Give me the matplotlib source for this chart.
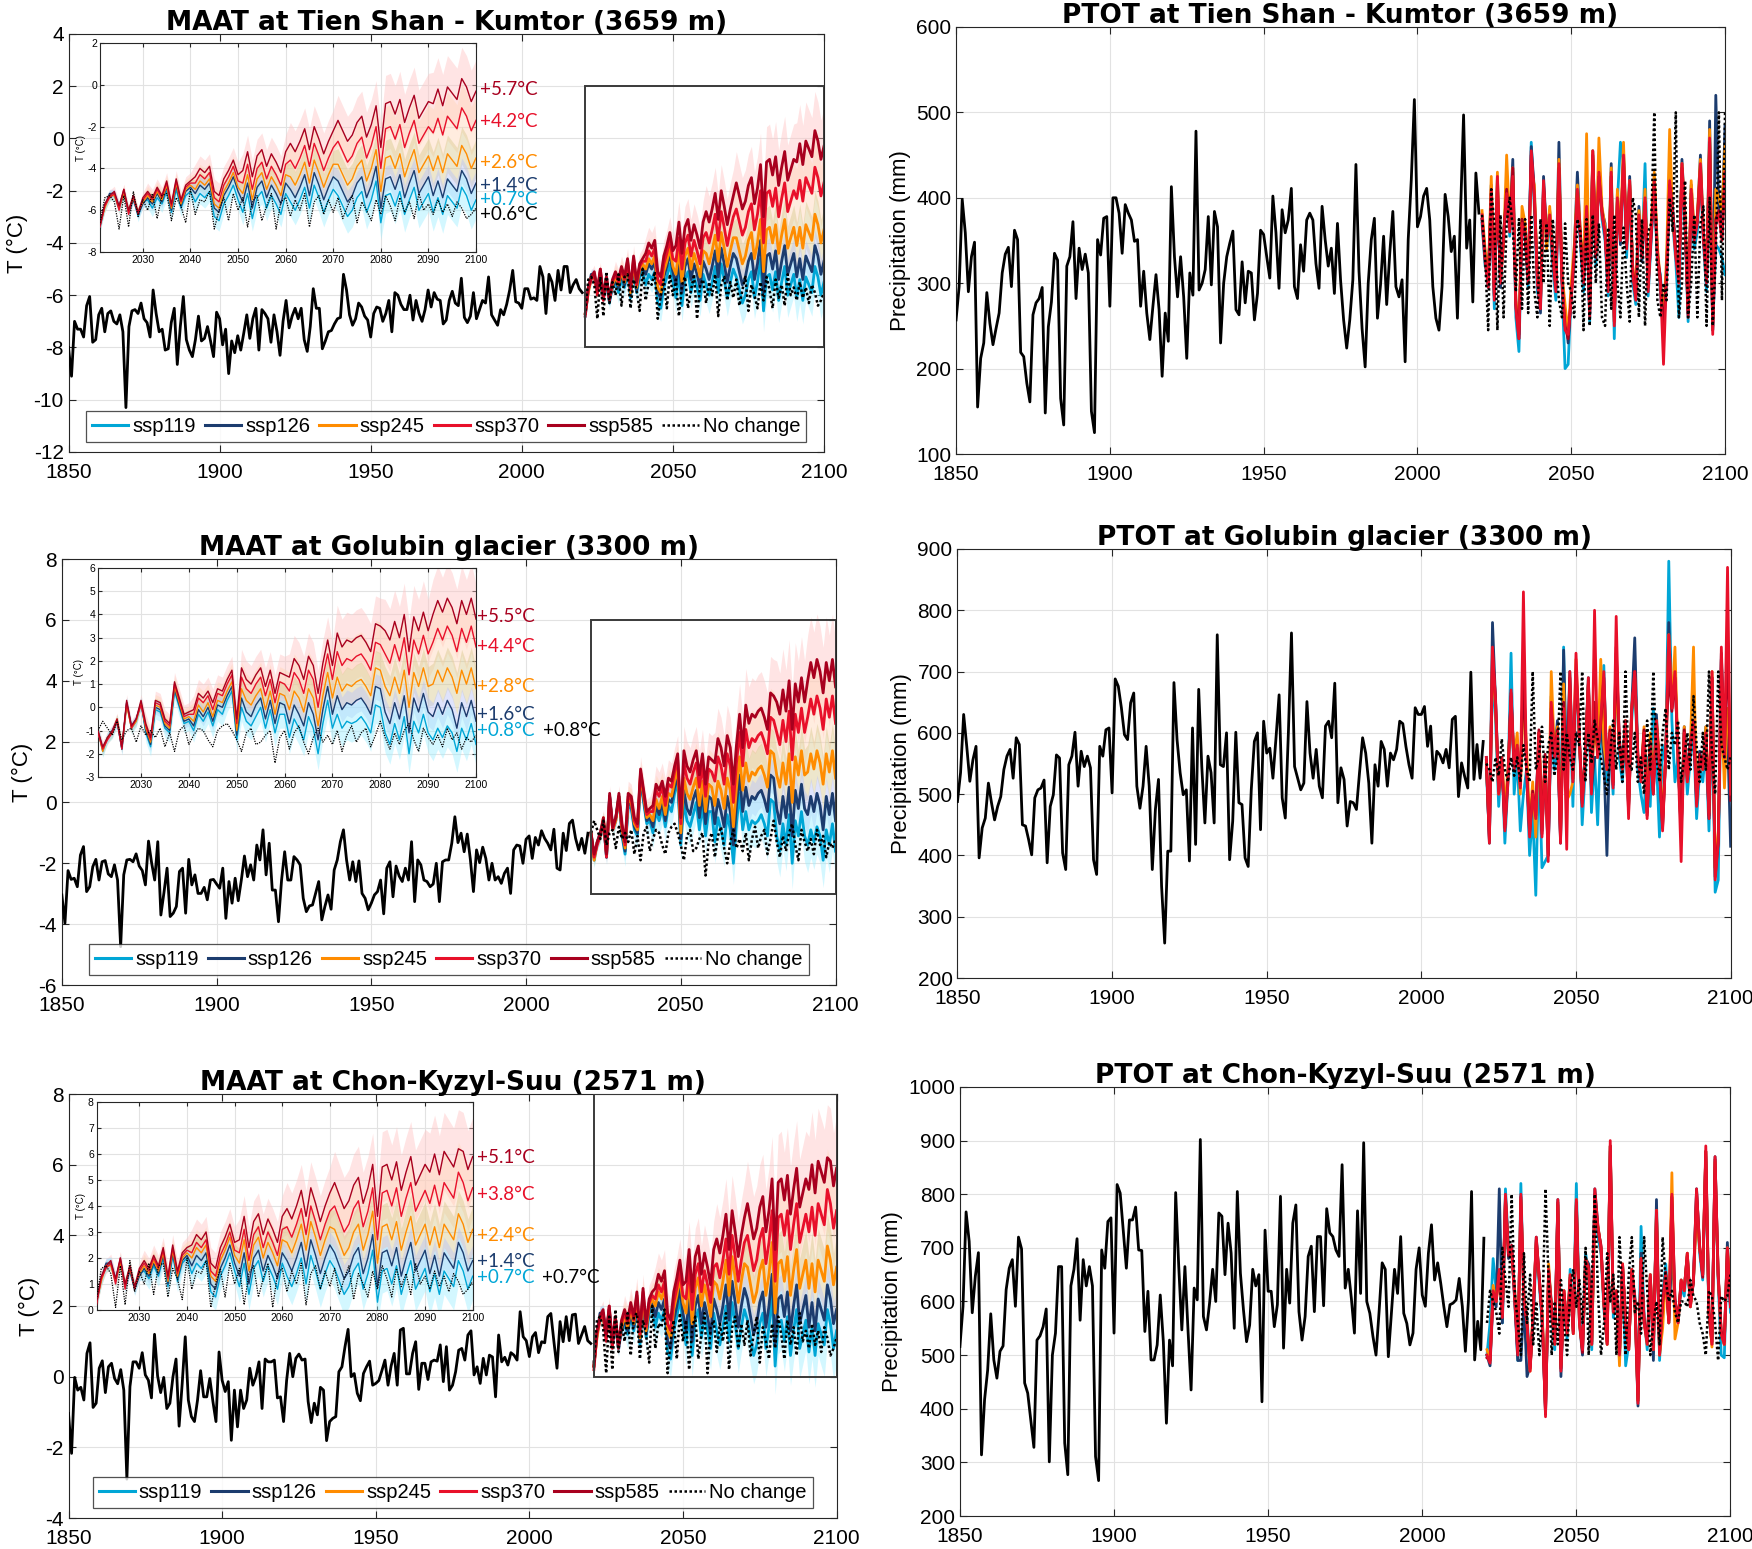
import numpy as np
import matplotlib
matplotlib.use('Agg')
import matplotlib.pyplot as plt
from matplotlib.patches import Rectangle
from matplotlib.lines import Line2D

plt.rcParams['font.family'] = ['Liberation Sans', 'DejaVu Sans']
plt.rcParams['axes.unicode_minus'] = False

# ---------------- historical series 1850-2020 ----------------
t1_hist = [-8.0, -9.1, -7.0, -7.3, -7.3, -7.6, -6.4, -6.05, -7.8, -7.7,
           -6.75, -6.5, -7.4, -6.7, -6.6, -7.0, -7.1, -6.75, -7.4, -10.3,
           -7.2, -6.6, -6.55, -6.7, -6.3, -6.9, -7.05, -7.6, -5.8, -6.7,
           -7.4, -7.3, -8.1, -8.05, -7.05, -6.5, -8.65, -7.2, -6.05, -7.7,
           -8.1, -8.35, -7.7, -6.8, -7.75, -7.65, -7.2, -7.75, -8.35, -6.65,
           -6.9, -7.9, -7.3, -9.0, -7.75, -8.2, -7.55, -8.1, -7.45, -6.75,
           -7.65, -6.9, -6.5, -8.1, -6.55, -6.7, -6.9, -7.8, -6.75, -7.4,
           -8.3, -7.0, -6.2, -7.25, -6.8, -6.5, -6.9, -6.5, -7.7, -8.15,
           -7.2, -5.75, -6.5, -6.5, -8.05, -7.75, -7.4, -7.35, -7.1, -6.9,
           -6.85, -5.2, -5.8, -6.75, -7.15, -6.9, -6.3, -6.45, -6.8, -6.95,
           -7.6, -6.7, -6.45, -6.5, -7.0, -6.7, -6.2, -7.4, -5.9, -6.0,
           -6.35, -6.55, -6.55, -6.0, -6.95, -6.2, -6.7, -7.0, -6.55, -5.8,
           -6.45, -5.9, -6.15, -6.2, -7.1, -6.95, -6.2, -5.85, -6.3, -6.4,
           -5.35, -6.85, -7.05, -6.8, -5.9, -6.9, -6.55, -6.2, -6.3, -5.3,
           -6.75, -6.95, -7.15, -6.55, -6.75, -6.35, -5.8, -5.05, -6.25, -6.3,
           -6.5, -5.75, -5.75, -6.15, -6.1, -6.2, -4.9, -5.3, -6.7, -5.2,
           -5.5, -6.2, -5.05, -5.8, -4.9, -4.9, -5.9, -5.6, -5.4, -5.75,
           -5.9]

t2_hist = [-3.04, -3.97, -2.24, -2.53, -2.49, -2.77, -1.73, -1.45, -2.93, -2.77,
           -2.11, -1.87, -2.55, -1.95, -1.91, -2.35, -2.44, -2.05, -2.55, -4.74,
           -2.38, -1.89, -1.87, -1.95, -1.69, -2.09, -2.24, -2.71, -1.27, -1.98,
           -2.55, -1.29, -3.7, -2.96, -2.16, -3.75, -3.64, -3.42, -2.27, -2.16,
           -3.64, -1.87, -2.71, -2.38, -2.99, -2.99, -2.79, -3.2, -2.55, -2.53,
           -2.68, -2.82, -2.16, -3.81, -2.6, -3.31, -2.49, -3.23, -2.55, -1.76,
           -2.44, -2.05, -2.55, -1.4, -1.89, -0.9, -2.38, -1.34, -2.88, -2.88,
           -3.92, -2.55, -1.62, -2.55, -2.55, -1.78, -1.89, -2.05, -3.15, -3.59,
           -3.4, -3.37, -2.99, -2.6, -3.86, -3.42, -3.04, -3.51, -2.22, -1.89,
           -1.29, -0.9, -1.89, -2.55, -1.95, -2.6, -1.92, -2.99, -3.15, -3.53,
           -3.31, -3.04, -2.93, -2.55, -3.66, -2.16, -1.95, -3.1, -2.09, -2.42,
           -2.6, -2.16, -2.55, -1.29, -3.26, -1.89, -2.05, -2.55, -2.6, -2.77,
           -2.68, -2.0, -3.26, -1.95, -1.89, -1.89, -1.34, -0.47, -1.32, -1.01,
           -1.62, -1.04, -1.87, -2.93, -1.56, -1.98, -1.47, -1.84, -2.55, -2.0,
           -2.55, -2.44, -2.66, -2.33, -2.16, -2.99, -1.56, -1.4, -1.43, -2.0,
           -1.21, -1.1, -1.84, -1.15, -1.4, -0.93, -1.18, -1.34, -1.56, -0.88,
           -2.16, -2.22, -1.01, -1.58, -0.69, -0.58, -1.18, -1.56, -1.18, -1.67,
           -1.01]

t3_hist = [-1.04, -2.17, -0.02, -0.38, -0.3, -0.66, 0.66, 0.96, -0.87, -0.75,
           0.24, 0.45, -0.45, 0.28, 0.38, -0.05, -0.2, 0.2, -0.38, -2.9,
           -0.28, 0.42, 0.42, 0.24, 0.68, 0.05, -0.1, -0.6, 1.2, 0.02,
           -0.45, -0.02, -0.9, -0.75, 0.0, 0.5, -1.4, -0.2, 1.13, -0.66,
           -1.13, -1.27, -0.66, 0.17, -0.57, -0.57, -0.05, -0.7, -1.27, 0.7,
           -0.1, -0.42, -0.14, -1.8, -0.38, -1.42, -0.38, -0.9, -0.66, 0.24,
           -0.24, 0.0, 0.42, -0.9, 0.5, 0.42, 0.42, 0.47, -0.6, -0.57,
           -1.27, -0.1, 0.66, 0.0, 0.52, 0.64, 0.47, 0.5, -0.7, -1.3,
           -0.75, -1.08, -0.3, -0.38, -1.81, -1.27, -1.18, -1.13, 0.14, 0.28,
           0.85, 1.34, 0.0, 0.09, -0.47, -0.68, 0.09, 0.28, 0.44, -0.24,
           -0.19, -0.11, 0.17, 0.47, -0.24, 0.3, 0.66, -0.24, 1.32, 1.37,
           0.08, 0.08, 0.66, 0.99, -0.36, 0.38, 0.38, -0.08, 0.42, 0.47,
           0.44, 0.9, -0.14, 0.85, -0.38, -0.24, 0.14, 0.75, 0.8, 0.47,
           1.18, 1.3, 0.05, 0.28, -0.19, 0.52, 0.05, 0.61, 0.56, -0.57,
           1.18, 0.42, 0.55, 0.33, 0.68, 0.61, 0.47, 1.84, 1.13, 1.02,
           0.57, 1.13, 1.25, 0.68, 0.99, 0.96, 1.7, 1.79, 0.99, 0.24,
           1.56, 0.99, 1.7, 1.02, 1.75, 1.77, 0.94, 1.18, 1.42, 1.02,
           0.94]

p1_hist = [257, 296, 398, 359, 290, 331, 348, 155, 212, 230,
           289, 253, 228, 247, 265, 312, 334, 342, 296, 362,
           351, 219, 214, 183, 161, 263, 277, 282, 295, 148,
           249, 278, 335, 327, 165, 134, 320, 331, 372, 282,
           341, 316, 334, 312, 150, 125, 351, 333, 376, 378,
           273, 400, 400, 382, 335, 392, 382, 374, 349, 351,
           273, 314, 265, 234, 273, 310, 269, 191, 265, 232,
           413, 331, 284, 331, 284, 212, 312, 286, 478, 292,
           300, 316, 378, 298, 384, 366, 230, 300, 331, 347,
           361, 269, 263, 325, 277, 314, 312, 257, 288, 362,
           357, 331, 306, 402, 359, 294, 386, 359, 374, 411,
           296, 282, 345, 314, 374, 382, 374, 323, 294, 390,
           351, 320, 341, 288, 370, 304, 257, 224, 257, 304,
           439, 314, 247, 202, 300, 351, 376, 259, 298, 355,
           275, 335, 384, 296, 284, 304, 208, 351, 421, 515,
           366, 378, 402, 411, 374, 296, 259, 245, 296, 404,
           378, 337, 355, 259, 382, 497, 341, 374, 278, 429,
           382]

p2_hist = [488, 535, 630, 578, 521, 556, 578, 396, 445, 461,
           518, 486, 458, 480, 496, 540, 562, 573, 526, 592,
           581, 450, 448, 426, 401, 494, 507, 510, 523, 388,
           480, 499, 564, 559, 404, 377, 548, 562, 601, 513,
           570, 545, 562, 543, 393, 369, 578, 562, 605, 608,
           502, 688, 676, 641, 597, 589, 649, 665, 513, 477,
           513, 578, 513, 377, 475, 524, 350, 257, 407, 407,
           682, 589, 535, 499, 507, 391, 608, 418, 671, 545,
           453, 562, 535, 453, 760, 548, 545, 600, 393, 456,
           601, 486, 483, 396, 382, 507, 586, 600, 442, 619,
           567, 575, 526, 592, 662, 494, 461, 600, 763, 545,
           526, 507, 518, 651, 567, 526, 573, 513, 494, 611,
           619, 592, 681, 486, 543, 524, 448, 488, 486, 475,
           535, 592, 567, 518, 420, 548, 513, 586, 573, 513,
           567, 556, 573, 619, 615, 578, 548, 526, 641, 630,
           630, 643, 578, 611, 524, 570, 564, 551, 573, 543,
           622, 627, 496, 551, 529, 510, 699, 524, 581, 526,
           586]

p3_hist = [516, 591, 767, 712, 579, 647, 691, 314, 417, 472,
           577, 491, 457, 507, 517, 622, 662, 678, 591, 720,
           698, 448, 429, 379, 328, 528, 536, 553, 586, 301,
           500, 541, 665, 665, 336, 277, 629, 660, 717, 565,
           678, 629, 665, 629, 311, 266, 696, 662, 749, 756,
           541, 818, 802, 731, 662, 752, 752, 776, 696, 695,
           544, 619, 491, 491, 519, 612, 525, 373, 528, 480,
           803, 665, 547, 665, 547, 435, 625, 603, 902, 572,
           547, 597, 660, 600, 765, 759, 650, 746, 690, 550,
           805, 653, 584, 525, 556, 660, 629, 650, 413, 733,
           619, 619, 553, 594, 796, 513, 660, 597, 746, 780,
           581, 528, 572, 684, 703, 581, 721, 721, 592, 773,
           728, 721, 696, 684, 855, 625, 660, 606, 541, 769,
           615, 896, 600, 578, 535, 500, 581, 672, 660, 497,
           578, 660, 615, 721, 578, 559, 519, 541, 660, 700,
           612, 591, 690, 743, 640, 672, 634, 591, 553, 594,
           597, 603, 643, 591, 507, 603, 805, 491, 563, 510,
           718]

# ---------------- projections 2021-2100 ----------------
t1_proj = {
    'ssp119': [-6.8, -5.8, -5.3, -5.3, -5.9, -5.2, -6.1, -5.4, -6.3, -5.6,
               -5.5, -5.9, -5.4, -5.7, -5.1, -6.1, -5.0, -5.9, -5.3, -5.1,
               -5.6, -5.2, -5.4, -5.1, -6.3, -6.5, -5.7, -5.3, -4.8, -5.5,
               -6.1, -5.2, -6.4, -5.4, -5.1, -5.9, -5.3, -5.7, -6.2, -5.2,
               -5.6, -6.0, -5.5, -4.9, -5.9, -4.8, -5.4, -6.1, -5.5, -5.0,
               -5.3, -5.8, -6.3, -6.0, -5.4, -5.1, -6.1, -5.5, -4.6, -6.6,
               -5.3, -5.2, -5.8, -5.1, -6.2, -5.5, -4.9, -6.0, -5.6, -5.2,
               -6.1, -5.4, -6.2, -5.3, -5.6, -5.9, -4.9, -5.3, -6.0, -5.5],
    'ssp126': [-6.7, -5.8, -5.2, -5.2, -5.8, -5.1, -6.1, -5.5, -6.2, -5.7,
               -5.4, -5.7, -5.2, -5.6, -4.9, -6.0, -4.8, -5.8, -5.1, -4.9,
               -5.2, -4.8, -5.0, -4.7, -5.9, -6.1, -5.3, -4.9, -4.4, -5.1,
               -5.6, -4.7, -5.9, -4.9, -4.6, -5.4, -4.8, -5.2, -5.7, -4.7,
               -5.0, -5.4, -4.9, -4.3, -5.3, -4.2, -4.8, -5.5, -4.9, -4.4,
               -4.6, -5.1, -5.6, -5.3, -4.7, -4.4, -5.4, -4.8, -3.9, -5.9,
               -4.5, -4.4, -5.0, -4.3, -5.4, -4.7, -4.1, -5.2, -4.8, -4.4,
               -5.3, -4.6, -5.4, -4.5, -4.8, -5.1, -4.1, -4.5, -5.2, -4.7],
    'ssp245': [-6.7, -5.9, -5.3, -5.3, -5.9, -5.2, -6.0, -5.4, -6.1, -5.6,
               -5.3, -5.6, -5.1, -5.5, -4.8, -5.9, -4.7, -5.7, -5.0, -4.8,
               -5.0, -4.6, -4.8, -4.5, -5.7, -5.9, -5.1, -4.7, -4.2, -4.9,
               -5.2, -4.3, -5.5, -4.5, -4.2, -5.0, -4.4, -4.8, -5.3, -4.3,
               -4.4, -4.8, -4.3, -3.7, -4.7, -3.6, -4.2, -4.9, -4.3, -3.8,
               -3.8, -4.3, -4.8, -4.5, -3.9, -3.6, -4.6, -4.0, -3.1, -5.1,
               -3.5, -3.4, -4.0, -3.3, -4.4, -3.7, -3.1, -4.2, -3.8, -3.4,
               -4.1, -3.4, -4.2, -3.3, -3.6, -3.9, -2.9, -3.3, -4.0, -3.5],
    'ssp370': [-6.8, -5.8, -5.4, -5.2, -6.0, -5.0, -6.2, -5.3, -6.2, -5.5,
               -5.2, -5.5, -5.0, -5.4, -4.7, -5.8, -4.6, -5.6, -4.9, -4.7,
               -4.7, -4.3, -4.5, -4.2, -5.4, -5.6, -4.8, -4.4, -3.9, -4.6,
               -4.7, -3.8, -5.0, -4.0, -3.7, -4.5, -3.9, -4.3, -4.8, -3.8,
               -3.6, -4.0, -3.5, -2.9, -3.9, -2.8, -3.4, -4.1, -3.5, -3.0,
               -2.7, -3.2, -3.7, -3.4, -2.8, -2.5, -3.5, -2.9, -2.0, -4.0,
               -2.1, -2.0, -2.6, -1.9, -3.0, -2.3, -1.7, -2.8, -2.4, -2.0,
               -2.3, -1.6, -2.4, -1.5, -1.8, -2.1, -1.1, -1.5, -2.2, -1.7],
    'ssp585': [-6.7, -5.7, -5.3, -5.1, -5.8, -5.0, -6.0, -5.3, -6.1, -5.4,
               -5.1, -5.4, -4.9, -5.3, -4.6, -5.7, -4.5, -5.5, -4.8, -4.6,
               -4.4, -4.0, -4.2, -3.9, -5.1, -5.3, -4.5, -4.1, -3.6, -4.3,
               -4.1, -3.2, -4.4, -3.4, -3.1, -3.9, -3.3, -3.7, -4.2, -3.2,
               -2.8, -3.2, -2.7, -2.1, -3.1, -2.0, -2.6, -3.3, -2.7, -2.2,
               -1.7, -2.2, -2.7, -2.4, -1.8, -1.5, -2.5, -1.9, -1.0, -3.0,
               -0.9, -0.8, -1.4, -0.7, -1.8, -1.1, -0.5, -1.6, -1.2, -0.8,
               -0.9, -0.2, -1.0, -0.1, -0.4, -0.7, 0.3, -0.1, -0.8, -0.3],
}
t1_nochange = [-6.6, -5.4, -5.3, -5.6, -6.9, -5.3, -6.8, -5.1, -6.3, -5.5,
               -6.0, -5.2, -6.4, -5.3, -5.2, -6.5, -5.4, -5.8, -6.6, -5.0,
               -6.2, -5.5, -5.6, -5.1, -6.9, -6.0, -5.4, -6.5, -5.2, -6.0,
               -5.4, -6.8, -5.6, -5.3, -6.5, -5.8, -5.2, -6.9, -5.6, -5.4,
               -6.3, -5.5, -6.0, -5.2, -6.8, -5.6, -5.3, -6.2, -5.5, -6.1,
               -5.4, -6.4, -5.8, -5.3, -6.6, -5.6, -6.0, -6.5, -5.5, -6.2,
               -5.3, -5.8, -6.5, -5.4, -6.1, -5.6, -6.4, -5.2, -6.0, -5.7,
               -6.2, -5.5, -6.1, -5.7, -6.3, -5.6, -5.9, -6.4, -6.2, -5.9]

t2_proj = {
    'ssp119': [-1.0, -1.9, -1.3, -1.1, -0.6, -1.8, 0.2, -0.9, -0.6, 0.2,
               -1.1, -1.7, -0.1, -0.2, -0.9, -1.1, 0.7, 0.0, -0.7, -0.6,
               -1.0, -0.3, -0.6, -0.2, -0.8, -0.1, -0.3, 0.3, 0.7, -1.4,
               0.0, -0.6, -0.8, -0.4, 0.0, -0.9, -0.1, -1.1, -0.3, -0.3,
               -1.3, -0.5, -0.9, -1.4, -0.4, -0.9, -2.0, -0.7, 0.3, -0.9,
               -0.3, -0.9, -0.6, -0.7, -0.6, -0.4, -0.7, -1.1, 0.1, 0.0,
               -1.1, -1.6, -0.7, -1.4, -0.4, -2.0, -0.6, -1.1, -0.3, -1.1,
               -1.4, -0.9, -1.3, -0.8, -1.1, -1.9, -0.9, -1.4, -0.7, -1.6],
    'ssp126': [-1.0, -1.8, -1.3, -1.0, -0.6, -1.8, 0.2, -0.8, -0.5, 0.2,
               -1.0, -1.6, 0.0, -0.1, -0.8, -1.0, 0.8, 0.1, -0.6, -0.5,
               -0.8, -0.1, -0.4, 0.0, -0.6, 0.1, 0.0, 0.5, 0.9, -1.2,
               0.4, -0.2, -0.4, 0.1, 0.4, -0.5, 0.3, -0.7, 0.2, 0.1,
               -0.7, 0.1, -0.3, -0.8, 0.2, -0.3, -1.4, -0.1, 0.9, -0.3,
               0.5, -0.1, 0.2, 0.1, 0.3, 0.4, 0.1, -0.3, 0.9, 0.8,
               -0.2, -0.7, 0.2, -0.5, 0.5, -1.1, 0.4, -0.2, 0.6, -0.2,
               -0.4, 0.2, -0.3, 0.3, -0.1, -0.9, 0.2, -0.4, 0.3, -0.6],
    'ssp245': [-1.0, -1.9, -1.3, -1.1, -0.5, -1.7, 0.1, -0.9, -0.6, 0.2,
               -0.9, -1.5, 0.1, 0.0, -0.7, -0.9, 0.9, 0.2, -0.5, -0.4,
               -0.6, 0.1, -0.2, 0.2, -0.4, 0.3, 0.2, 0.7, 1.1, -1.0,
               0.8, 0.3, 0.1, 0.5, 0.8, -0.1, 0.7, -0.3, 0.6, 0.5,
               -0.1, 0.7, 0.4, -0.2, 0.8, 0.4, -0.8, 0.5, 1.5, 0.4,
               1.3, 0.7, 1.0, 0.9, 1.1, 1.2, 0.9, 0.5, 1.7, 1.6,
               0.9, 0.5, 1.3, 0.6, 1.6, 0.0, 1.5, 0.9, 1.7, 0.9,
               1.0, 1.6, 1.1, 1.7, 1.3, 0.6, 1.6, 1.0, 1.7, 0.8],
    'ssp370': [-1.1, -1.8, -1.4, -1.1, -0.6, -1.8, 0.2, -0.9, -0.5, 0.1,
               -0.8, -1.4, 0.2, 0.1, -0.6, -0.8, 1.0, 0.3, -0.4, -0.3,
               -0.3, 0.4, 0.2, 0.5, -0.1, 0.6, 0.5, 1.0, 1.4, -0.7,
               1.3, 0.8, 0.6, 1.0, 1.3, 0.5, 1.2, 0.2, 1.1, 1.0,
               0.7, 1.5, 1.2, 0.6, 1.6, 1.2, 0.0, 1.3, 2.3, 1.2,
               2.4, 1.8, 2.1, 2.0, 2.2, 2.3, 2.0, 1.6, 2.8, 2.7,
               2.3, 1.9, 2.7, 2.0, 3.0, 1.4, 2.9, 2.3, 3.1, 2.3,
               2.8, 3.4, 2.9, 3.5, 3.1, 2.4, 3.4, 2.8, 3.5, 2.6],
    'ssp585': [-1.0, -1.7, -1.3, -1.0, -0.5, -1.7, 0.3, -0.8, -0.5, 0.3,
               -0.7, -1.3, 0.3, 0.2, -0.5, -0.7, 1.1, 0.4, -0.3, -0.2,
               -0.1, 0.6, 0.4, 0.7, 0.2, 0.8, 0.7, 1.2, 1.6, -0.5,
               1.7, 1.2, 1.0, 1.4, 1.7, 0.9, 1.6, 0.6, 1.5, 1.4,
               1.3, 2.1, 1.8, 1.2, 2.2, 1.8, 0.6, 1.9, 2.9, 1.8,
               3.2, 2.6, 2.9, 2.8, 3.0, 3.1, 2.8, 2.4, 3.6, 3.5,
               3.3, 2.9, 3.7, 3.0, 4.0, 2.4, 3.9, 3.3, 4.1, 3.3,
               4.0, 4.6, 4.1, 4.7, 4.3, 3.6, 4.6, 4.0, 4.7, 3.8],
}
t2_nochange = [-1.0, -0.6, -0.9, -1.2, -0.6, -1.4, -1.0, -0.9, -1.5, -0.8,
               -1.2, -1.0, -1.3, -0.9, -1.7, -1.1, -1.9, -1.0, -0.8, -1.6,
               -1.2, -0.9, -1.0, -1.4, -1.7, -1.0, -0.8, -0.7, -1.0, -1.4,
               -1.9, -1.1, -0.9, -1.6, -1.5, -1.2, -1.0, -2.4, -1.3, -1.0,
               -1.8, -1.1, -0.8, -1.5, -2.0, -1.3, -0.9, -1.5, -1.2, -1.6,
               -1.0, -1.9, -1.2, -0.8, -1.5, -1.1, -0.9, -1.7, -1.2, -0.6,
               -1.3, -1.8, -1.1, -1.6, -1.0, -0.7, -1.4, -1.9, -0.9, -1.3,
               -1.6, -1.2, -1.7, -0.9, -1.4, -1.1, -1.8, -1.3, -1.5, -1.2]

t3_proj = {
    'ssp119': [0.3, 1.2, 1.7, 1.8, 1.1, 1.9, 0.9, 1.6, 0.8, 1.4,
               1.5, 1.2, 1.7, 1.3, 2.0, 0.9, 2.1, 1.1, 1.8, 2.0,
               1.4, 1.8, 1.6, 1.9, 0.7, 0.5, 1.3, 1.7, 2.2, 1.5,
               0.9, 1.8, 0.6, 1.6, 1.9, 1.1, 1.7, 1.3, 0.8, 1.8,
               1.3, 0.9, 1.4, 2.0, 1.0, 2.1, 1.5, 0.8, 1.4, 1.9,
               1.6, 1.1, 0.6, 0.9, 1.5, 1.8, 0.8, 1.4, 2.3, 0.3,
               1.5, 1.6, 1.0, 1.7, 0.6, 1.3, 1.9, 0.8, 1.2, 1.6,
               0.7, 1.4, 0.6, 1.5, 1.2, 0.9, 1.9, 1.5, 0.8, 1.3],
    'ssp126': [0.3, 1.2, 1.8, 1.8, 1.2, 1.9, 0.9, 1.5, 0.8, 1.3,
               1.6, 1.3, 1.8, 1.4, 2.1, 1.0, 2.2, 1.2, 1.9, 2.1,
               1.7, 2.1, 1.9, 2.2, 1.0, 0.8, 1.6, 2.0, 2.5, 1.8,
               1.3, 2.2, 1.0, 2.0, 2.3, 1.5, 2.1, 1.7, 1.2, 2.2,
               1.9, 1.5, 2.0, 2.6, 1.6, 2.7, 2.1, 1.4, 2.0, 2.5,
               2.2, 1.7, 1.2, 1.5, 2.1, 2.4, 1.4, 2.0, 2.9, 0.9,
               2.2, 2.3, 1.7, 2.4, 1.3, 2.0, 2.6, 1.5, 1.9, 2.3,
               1.4, 2.1, 1.3, 2.2, 1.9, 1.6, 2.6, 2.2, 1.5, 1.9],
    'ssp245': [0.3, 1.1, 1.7, 1.7, 1.1, 1.8, 1.0, 1.6, 0.9, 1.4,
               1.7, 1.4, 1.9, 1.5, 2.2, 1.1, 2.3, 1.3, 2.0, 2.2,
               2.0, 2.4, 2.2, 2.5, 1.3, 1.1, 1.9, 2.3, 2.8, 2.1,
               1.8, 2.7, 1.5, 2.5, 2.8, 2.0, 2.6, 2.2, 1.7, 2.7,
               2.6, 2.2, 2.7, 3.3, 2.3, 3.4, 2.8, 2.1, 2.7, 3.2,
               3.1, 2.6, 2.1, 2.4, 3.0, 3.3, 2.3, 2.9, 3.8, 1.8,
               3.2, 3.3, 2.7, 3.4, 2.3, 3.0, 3.6, 2.5, 2.9, 3.3,
               2.5, 3.2, 2.4, 3.3, 3.0, 2.7, 3.7, 3.3, 2.6, 3.1],
    'ssp370': [0.2, 1.2, 1.6, 1.8, 1.0, 2.0, 0.8, 1.7, 0.8, 1.5,
               1.8, 1.5, 2.0, 1.6, 2.3, 1.2, 2.4, 1.4, 2.1, 2.3,
               2.2, 2.6, 2.4, 2.7, 1.5, 1.3, 2.1, 2.5, 3.0, 2.3,
               2.2, 3.1, 1.9, 2.9, 3.2, 2.4, 3.0, 2.6, 2.1, 3.1,
               3.2, 2.8, 3.3, 3.9, 2.9, 4.0, 3.4, 2.7, 3.3, 3.8,
               4.0, 3.5, 3.0, 3.3, 3.9, 4.2, 3.2, 3.8, 4.7, 2.7,
               4.5, 4.6, 4.0, 4.7, 3.6, 4.3, 4.9, 3.8, 4.2, 4.6,
               4.1, 4.8, 4.0, 4.9, 4.6, 4.3, 5.3, 4.9, 4.2, 4.7],
    'ssp585': [0.3, 1.3, 1.7, 1.9, 1.2, 2.0, 1.0, 1.7, 0.9, 1.6,
               1.9, 1.6, 2.1, 1.7, 2.4, 1.3, 2.5, 1.5, 2.2, 2.4,
               2.5, 2.9, 2.7, 3.0, 1.8, 1.6, 2.4, 2.8, 3.3, 2.6,
               2.7, 3.6, 2.4, 3.4, 3.7, 2.9, 3.5, 3.1, 2.6, 3.6,
               3.9, 3.5, 4.0, 4.6, 3.6, 4.7, 4.1, 3.4, 4.0, 4.5,
               4.9, 4.4, 3.9, 4.2, 4.8, 5.1, 4.1, 4.7, 5.6, 3.6,
               5.5, 5.6, 5.0, 5.7, 4.6, 5.3, 5.9, 4.8, 5.2, 5.6,
               5.3, 6.0, 5.2, 6.1, 5.8, 5.5, 6.2, 6.1, 5.4, 5.9],
}
t3_nochange = [0.4, 1.6, 1.7, 1.4, 0.1, 1.7, 0.2, 1.9, 0.7, 1.5,
               1.0, 1.8, 0.6, 1.7, 1.8, 0.5, 1.6, 1.2, 0.4, 2.0,
               0.8, 1.5, 1.4, 1.9, 0.1, 1.0, 1.6, 0.5, 1.8, 1.0,
               1.6, 0.2, 1.4, 1.7, 0.5, 1.2, 1.8, 0.1, 1.4, 1.6,
               0.7, 1.5, 1.0, 1.8, 0.2, 1.4, 1.7, 0.8, 1.5, 0.9,
               1.6, 0.6, 1.2, 1.7, 0.4, 1.4, 1.0, 0.5, 1.5, 0.8,
               1.7, 1.2, 0.5, 1.6, 0.9, 1.4, 0.6, 1.8, 1.0, 1.3,
               0.8, 1.5, 0.9, 1.3, 0.7, 1.4, 1.1, 0.6, 0.8, 1.1]

p1_proj = {
    'ssp119': [370, 320, 310, 400, 270, 425, 310, 345, 420, 355,
               430, 260, 220, 365, 355, 295, 465, 390, 290, 275,
               410, 345, 370, 320, 280, 430, 295, 200, 205, 290,
               320, 400, 345, 290, 385, 255, 445, 320, 440, 375,
               350, 285, 425, 235, 395, 465, 440, 330, 410, 300,
               275, 370, 335, 440, 285, 350, 410, 325, 310, 250,
               300, 410, 370, 325, 260, 430, 365, 255, 400, 340,
               360, 430, 345, 290, 470, 245, 345, 340, 330, 310],
    'ssp126': [375, 335, 295, 415, 285, 410, 295, 360, 400, 365,
               445, 275, 240, 375, 365, 305, 460, 410, 305, 265,
               425, 355, 385, 340, 295, 465, 305, 265, 230, 285,
               340, 430, 355, 305, 395, 265, 455, 340, 425, 385,
               370, 295, 440, 260, 405, 345, 455, 350, 425, 315,
               285, 390, 325, 395, 300, 365, 415, 340, 290, 240,
               320, 425, 385, 340, 305, 445, 375, 265, 415, 355,
               375, 450, 355, 305, 490, 250, 520, 385, 360, 485],
    'ssp245': [385, 340, 305, 425, 290, 430, 305, 345, 450, 370,
               435, 280, 250, 390, 370, 310, 430, 415, 310, 280,
               410, 340, 390, 335, 300, 445, 310, 275, 240, 300,
               345, 415, 360, 310, 475, 270, 455, 335, 470, 390,
               365, 300, 435, 255, 410, 360, 465, 345, 420, 320,
               290, 385, 340, 410, 295, 370, 430, 345, 300, 260,
               330, 480, 375, 335, 305, 440, 380, 270, 420, 360,
               380, 445, 360, 310, 480, 255, 410, 400, 385, 460],
    'ssp370': [380, 330, 295, 410, 280, 425, 300, 350, 405, 360,
               425, 270, 235, 370, 360, 300, 455, 405, 300, 270,
               420, 350, 380, 330, 290, 440, 300, 245, 240, 280,
               330, 410, 350, 300, 390, 260, 455, 335, 430, 380,
               360, 290, 430, 250, 400, 350, 450, 340, 420, 310,
               280, 380, 330, 400, 290, 360, 420, 330, 300, 205,
               310, 420, 380, 330, 300, 440, 370, 260, 410, 350,
               370, 440, 350, 300, 470, 240, 370, 380, 350, 430],
    'ssp585': [375, 325, 300, 405, 285, 415, 305, 355, 410, 365,
               435, 275, 235, 375, 355, 305, 450, 400, 305, 275,
               415, 355, 375, 335, 295, 435, 305, 250, 235, 285,
               335, 405, 355, 305, 385, 265, 450, 330, 425, 385,
               355, 295, 425, 255, 395, 355, 445, 345, 415, 315,
               285, 375, 335, 395, 295, 355, 415, 335, 305, 240,
               315, 415, 385, 335, 305, 435, 375, 265, 405, 355,
               375, 435, 355, 305, 465, 245, 375, 385, 355, 425],
}
p1_nochange = [380, 330, 245, 410, 370, 245, 380, 260, 370, 400,
               365, 290, 375, 270, 375, 265, 380, 290, 260, 375,
               300, 370, 250, 375, 330, 280, 260, 370, 300, 290,
               260, 375, 360, 245, 375, 250, 380, 300, 370, 260,
               250, 365, 270, 380, 300, 260, 365, 300, 255, 400,
               380, 260, 375, 250, 360, 370, 500, 280, 260, 300,
               280, 400, 360, 500, 260, 300, 420, 260, 300, 380,
               260, 370, 390, 250, 400, 250, 330, 500, 280, 500]

p2_proj = {
    'ssp119': [540, 430, 700, 620, 480, 560, 420, 520, 730, 500,
               560, 440, 500, 540, 400, 470, 335, 560, 380, 390,
               400, 620, 540, 580, 430, 740, 500, 660, 480, 700,
               610, 450, 540, 680, 470, 560, 450, 600, 710, 520,
               590, 500, 720, 560, 520, 600, 480, 620, 690, 540,
               500, 470, 560, 480, 640, 560, 430, 580, 550, 880,
               620, 520, 560, 430, 600, 500, 560, 600, 460, 540,
               520, 580, 440, 640, 340, 360, 720, 540, 600, 490],
    'ssp126': [560, 420, 780, 650, 510, 560, 450, 530, 660, 540,
               580, 520, 700, 550, 440, 500, 470, 600, 440, 560,
               400, 660, 560, 620, 420, 735, 520, 700, 530, 600,
               600, 490, 570, 690, 510, 560, 560, 620, 560, 400,
               600, 520, 730, 590, 540, 620, 480, 640, 755, 560,
               520, 600, 470, 590, 500, 630, 540, 450, 560, 780,
               640, 700, 560, 440, 610, 530, 590, 620, 490, 570,
               540, 610, 460, 690, 380, 420, 730, 560, 600, 415],
    'ssp245': [550, 440, 720, 640, 500, 560, 480, 540, 650, 560,
               600, 500, 660, 580, 450, 520, 430, 600, 480, 540,
               420, 700, 570, 610, 440, 680, 490, 500, 520, 720,
               600, 490, 560, 680, 520, 620, 560, 720, 580, 540,
               610, 520, 700, 580, 540, 620, 480, 640, 690, 560,
               530, 610, 480, 600, 520, 620, 560, 460, 560, 760,
               640, 740, 560, 440, 610, 520, 580, 740, 490, 560,
               540, 610, 470, 700, 380, 440, 650, 510, 640, 600],
    'ssp370': [560, 420, 740, 650, 500, 560, 440, 520, 670, 540,
               580, 510, 830, 540, 430, 500, 460, 600, 430, 560,
               390, 650, 560, 600, 420, 640, 410, 700, 520, 730,
               600, 480, 560, 690, 500, 800, 560, 620, 700, 540,
               600, 510, 790, 580, 540, 620, 460, 640, 700, 560,
               520, 600, 460, 580, 500, 620, 540, 440, 560, 760,
               640, 700, 560, 390, 600, 520, 580, 620, 480, 560,
               540, 600, 460, 700, 360, 420, 740, 560, 870, 500],
    'ssp585': [555, 425, 730, 655, 505, 555, 445, 525, 665, 545,
               575, 515, 700, 545, 435, 505, 465, 605, 435, 565,
               400, 640, 565, 605, 425, 650, 520, 690, 525, 700,
               605, 485, 565, 680, 505, 650, 565, 615, 690, 545,
               605, 515, 740, 585, 545, 615, 470, 635, 700, 565,
               525, 605, 465, 585, 505, 615, 545, 445, 565, 700,
               635, 690, 565, 435, 605, 525, 585, 615, 485, 565,
               545, 595, 465, 690, 365, 425, 720, 560, 760, 490],
}
p2_nochange = [550, 540, 520, 560, 530, 590, 540, 520, 560, 530,
               560, 520, 580, 540, 520, 700, 540, 560, 610, 520,
               580, 600, 530, 560, 700, 540, 600, 560, 540, 600,
               580, 700, 520, 600, 550, 620, 590, 560, 530, 500,
               560, 620, 540, 600, 520, 700, 550, 540, 600, 520,
               560, 500, 620, 540, 700, 560, 520, 600, 640, 540,
               600, 580, 620, 520, 560, 600, 540, 660, 580, 520,
               600, 540, 700, 560, 500, 700, 580, 560, 540, 560]

p3_proj = {
    'ssp119': [500, 560, 680, 620, 650, 560, 810, 700, 690, 620,
               490, 820, 590, 570, 480, 560, 700, 630, 550, 400,
               650, 570, 510, 780, 480, 610, 530, 660, 550, 820,
               570, 520, 690, 650, 510, 800, 720, 690, 580, 530,
               880, 570, 610, 490, 660, 480, 520, 650, 610, 420,
               740, 570, 510, 640, 520, 760, 490, 610, 670, 560,
               780, 590, 570, 630, 610, 680, 600, 640, 790, 690,
               640, 870, 570, 530, 850, 640, 500, 495, 690, 580],
    'ssp126': [500, 480, 610, 590, 810, 560, 790, 680, 700, 600,
               490, 490, 600, 460, 480, 570, 720, 640, 560, 390,
               660, 590, 530, 790, 460, 620, 540, 640, 540, 780,
               560, 500, 680, 670, 520, 810, 740, 700, 590, 520,
               890, 580, 620, 500, 670, 560, 510, 660, 600, 405,
               690, 560, 530, 650, 490, 790, 500, 600, 650, 560,
               690, 600, 560, 640, 620, 690, 590, 640, 810, 700,
               650, 880, 580, 520, 870, 650, 540, 520, 710, 590],
    'ssp245': [510, 490, 630, 600, 650, 580, 790, 690, 690, 620,
               510, 790, 610, 560, 470, 590, 710, 640, 570, 400,
               670, 580, 520, 780, 480, 620, 540, 650, 540, 790,
               560, 510, 680, 660, 520, 760, 740, 700, 590, 520,
               890, 580, 620, 480, 670, 560, 510, 660, 600, 415,
               680, 560, 520, 650, 510, 770, 500, 550, 650, 560,
               840, 530, 560, 640, 620, 690, 590, 640, 760, 700,
               650, 880, 580, 515, 860, 650, 540, 520, 700, 620],
    'ssp370': [500, 485, 620, 600, 660, 570, 800, 690, 700, 610,
               500, 800, 600, 560, 470, 580, 720, 640, 560, 385,
               660, 580, 520, 790, 470, 620, 540, 650, 540, 790,
               560, 510, 680, 660, 520, 810, 740, 700, 590, 520,
               900, 580, 620, 500, 670, 560, 510, 660, 600, 410,
               680, 560, 520, 650, 510, 770, 500, 600, 650, 560,
               800, 600, 560, 640, 620, 690, 590, 640, 810, 700,
               650, 890, 580, 520, 870, 650, 540, 520, 700, 590],
    'ssp585': [495, 490, 615, 605, 655, 575, 795, 685, 705, 605,
               505, 795, 605, 555, 475, 575, 715, 645, 555, 390,
               655, 585, 525, 785, 475, 615, 545, 645, 545, 785,
               565, 505, 675, 665, 525, 800, 735, 705, 595, 525,
               890, 585, 615, 505, 665, 565, 515, 655, 605, 415,
               675, 565, 525, 645, 515, 765, 505, 595, 655, 565,
               795, 605, 565, 635, 625, 685, 595, 635, 805, 705,
               645, 880, 585, 525, 865, 655, 545, 525, 695, 595],
}
p3_nochange = [560, 620, 600, 580, 540, 700, 640, 590, 800, 620,
               560, 500, 690, 560, 650, 520, 600, 500, 580, 810,
               640, 500, 600, 520, 640, 560, 500, 620, 660, 590,
               640, 560, 700, 500, 640, 800, 620, 500, 560, 690,
               600, 650, 500, 720, 600, 500, 650, 720, 580, 600,
               540, 720, 620, 500, 560, 600, 520, 720, 640, 600,
               620, 580, 560, 600, 600, 590, 640, 610, 600, 560,
               540, 500, 620, 610, 560, 490, 610, 600, 610, 650]

# spread of the model ensemble around each scenario line, one value per decade
band_hw = {
    'ssp119': [0.25, 0.4, 0.5, 0.6, 0.7, 0.8, 0.85, 0.9],
    'ssp126': [0.2, 0.3, 0.4, 0.45, 0.5, 0.55, 0.6, 0.6],
    'ssp245': [0.2, 0.3, 0.45, 0.55, 0.65, 0.75, 0.85, 0.9],
    'ssp370': [0.2, 0.35, 0.5, 0.65, 0.8, 0.95, 1.05, 1.15],
    'ssp585': [0.25, 0.4, 0.6, 0.8, 1.0, 1.2, 1.35, 1.5],
}

scenarios = ['ssp119', 'ssp126', 'ssp245', 'ssp370', 'ssp585']
colors = {'ssp119': '#00A6D6', 'ssp126': '#1C3C6E', 'ssp245': '#FF8C00',
          'ssp370': '#E8102A', 'ssp585': '#A8001E'}
band_col = {'ssp119': '#9FEFFF', 'ssp126': '#B9C3F7', 'ssp245': '#D9C98E',
            'ssp370': '#FFD5B8', 'ssp585': '#FFC4C4'}

# inset labels: (text, y position, colour key)
t1_labels = [('+5.7°C', -0.2, 'ssp585'), ('+4.2°C', -1.75, 'ssp370'),
             ('+2.6°C', -3.7, 'ssp245'), ('+1.4°C', -4.8, 'ssp126'),
             ('+0.7°C', -5.5, 'ssp119'), ('+0.6°C', -6.2, 'k')]
t2_labels = [('+5.5°C', 3.9, 'ssp585'), ('+4.4°C', 2.6, 'ssp370'),
             ('+2.8°C', 0.9, 'ssp245'), ('+1.6°C', -0.3, 'ssp126'),
             ('+0.8°C', -1.0, 'ssp119')]
t3_labels = [('+5.1°C', 5.85, 'ssp585'), ('+3.8°C', 4.45, 'ssp370'),
             ('+2.4°C', 2.85, 'ssp245'), ('+1.4°C', 1.85, 'ssp126'),
             ('+0.7°C', 1.25, 'ssp119')]

fig = plt.figure(figsize=(17.52, 15.49), dpi=100)
TITLE_FONT = dict(fontsize=19, fontweight='bold', family=['DejaVu Sans'])


def style(ax, size):
    ax.tick_params(direction='in', top=True, right=True, labelsize=size,
                   length=5, width=0.8, color='#262626')
    ax.grid(True, color='#e2e2e2', lw=0.8)
    ax.set_axisbelow(True)
    for s in ax.spines.values():
        s.set_color('#262626')
        s.set_linewidth(0.8)


def draw_proj(ax, proj, nochange, lw, nc_lw, bands):
    if bands:
        for name in ['ssp585', 'ssp370', 'ssp245', 'ssp126', 'ssp119']:
            y = np.array(proj[name])
            yrs = 2021 + np.arange(len(y))
            hw = np.repeat(band_hw[name], 10)[:len(y)]
            ax.fill_between(yrs, y - hw, y + hw, color=band_col[name],
                            alpha=0.45, lw=0, zorder=1)
    for name in ['ssp119', 'ssp126', 'ssp245', 'ssp585', 'ssp370'] if not bands else scenarios:
        y = proj[name]
        ax.plot(2021 + np.arange(len(y)), y, color=colors[name], lw=lw, zorder=3)
    ax.plot(2021 + np.arange(len(nochange)), nochange, color='k', ls=(0, (1, 1)),
            lw=nc_lw, zorder=4)


def add_legend(ax):
    handles = [Line2D([], [], color=colors[s], lw=2.2) for s in scenarios]
    handles.append(Line2D([], [], color='k', ls=(0, (1, 1)), lw=1.8))
    leg = ax.legend(handles, scenarios + ['No change'], loc='lower center',
                    bbox_to_anchor=(0.5, 0.015), ncol=6, fontsize=14.5,
                    frameon=True, fancybox=False, edgecolor='#262626',
                    handlelength=1.8, handletextpad=0.2, columnspacing=0.45,
                    borderpad=0.3, borderaxespad=0.2)
    leg.get_frame().set_linewidth(0.9)
    leg.set_zorder(10)


def temp_panel(rect, inset_rect, title, hist, proj, nochange, ylim, yticks,
               in_ylim, in_yticks, labels, label_x, nc_label, nc_x):
    ax = fig.add_axes(rect)
    style(ax, 15)
    ax.tick_params(axis='x', pad=8)
    draw_proj(ax, proj, nochange, 2.0, 1.8, True)
    ax.plot(1850 + np.arange(len(hist)), hist, color='k', lw=2.0, zorder=3)
    ax.add_patch(Rectangle((2021, in_ylim[0]), 79, in_ylim[1] - in_ylim[0],
                           fill=False, ec='#3a3a3a', lw=1.4, zorder=6))
    ax.set_xlim(1850, 2100)
    ax.set_xticks(range(1850, 2101, 50))
    ax.set_ylim(*ylim)
    ax.set_yticks(yticks)
    ax.set_ylabel('T (°C)', fontsize=16, labelpad=4)
    ax.set_title(title, pad=3, **TITLE_FONT)
    add_legend(ax)

    axi = fig.add_axes(inset_rect)
    style(axi, 7.5)
    axi.tick_params(length=3, pad=2)
    draw_proj(axi, proj, nochange, 1.0, 0.9, True)
    axi.set_xlim(2021, 2100)
    axi.set_xticks(range(2030, 2101, 10))
    axi.set_ylim(*in_ylim)
    axi.set_yticks(in_yticks)
    axi.set_ylabel('T (°C)', fontsize=7, labelpad=1)
    for txt, yv, key in labels:
        c = colors.get(key, 'k')
        axi.text(label_x, yv, txt, color=c, fontsize=13.5, ha='left', va='center',
                 family=['Lato', 'DejaVu Sans'], clip_on=False)
    if nc_label is not None:
        axi.text(nc_x, nc_label[1], nc_label[0], color='k', fontsize=13.5,
                 ha='left', va='center', family=['Lato', 'DejaVu Sans'],
                 clip_on=False)


def precip_panel(rect, title, hist, proj, nochange, ylim, yticks):
    ax = fig.add_axes(rect)
    style(ax, 15)
    ax.tick_params(axis='x', pad=8)
    ax.plot(1850 + np.arange(len(hist)), hist, color='k', lw=2.0, zorder=3)
    draw_proj(ax, proj, nochange, 2.0, 1.8, False)
    ax.set_xlim(1850, 2100)
    ax.set_xticks(range(1850, 2101, 50))
    ax.set_ylim(*ylim)
    ax.set_yticks(yticks)
    ax.set_ylabel('Precipitation (mm)', fontsize=16, labelpad=4)
    ax.set_title(title, pad=3, **TITLE_FONT)


temp_panel([0.0391, 0.7082, 0.4312, 0.2699], [0.0571, 0.8373, 0.2146, 0.1349],
           'MAAT at Tien Shan - Kumtor (3659 m)', t1_hist, t1_proj, t1_nochange,
           (-12, 4), range(-12, 5, 2), (-8, 2), range(-8, 3, 2),
           t1_labels, 2100.8, None, None)
temp_panel([0.0353, 0.3641, 0.4416, 0.2750], [0.0559, 0.4984, 0.2158, 0.1349],
           'MAAT at Golubin glacier (3300 m)', t2_hist, t2_proj, t2_nochange,
           (-6, 8), range(-6, 9, 2), (-3, 6), range(-3, 7, 1),
           t2_labels, 2100.3, ('+0.8°C', -1.0), 2114.0)
temp_panel([0.0391, 0.0200, 0.4384, 0.2737], [0.0551, 0.1543, 0.2147, 0.1343],
           'MAAT at Chon-Kyzyl-Suu (2571 m)', t3_hist, t3_proj, t3_nochange,
           (-4, 8), range(-4, 9, 2), (0, 8), range(0, 9, 1),
           t3_labels, 2101.0, ('+0.7°C', 1.25), 2114.5)

precip_panel([0.5457, 0.7069, 0.4389, 0.2757], 'PTOT at Tien Shan - Kumtor (3659 m)',
             p1_hist, p1_proj, p1_nochange, (100, 600), range(100, 601, 100))
precip_panel([0.5465, 0.3686, 0.4413, 0.2770], 'PTOT at Golubin glacier (3300 m)',
             p2_hist, p2_proj, p2_nochange, (200, 900), range(200, 901, 100))
precip_panel([0.5479, 0.0213, 0.4398, 0.2770], 'PTOT at Chon-Kyzyl-Suu (2571 m)',
             p3_hist, p3_proj, p3_nochange, (200, 1000), range(200, 1001, 100))

fig.savefig('out.png', dpi=100, facecolor='white')
